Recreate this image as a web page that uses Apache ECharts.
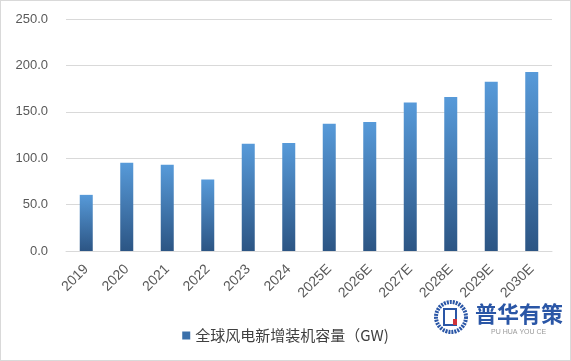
<!DOCTYPE html>
<html>
<head>
<meta charset="utf-8">
<script src="https://cdn.jsdelivr.net/npm/echarts@6/dist/echarts.min.js"></script>
<style>
html,body{margin:0;padding:0;background:#fff;}
#c{width:571px;height:361px;box-sizing:border-box;border:1px solid #d9d9d9;}
</style>
</head>
<body>
<div id="c"></div>
<script>
const categories = ['2019','2020','2021','2022','2023','2024','2025E','2026E','2027E','2028E','2029E','2030E'];
const capacity = [60.5, 95, 93, 77, 115.5, 116.5, 137, 139, 160, 166, 182.5, 193];
const seriesName = '全球风电新增装机容量（GW)';
const yTicks = {min: 0, max: 250, interval: 50};

const chart = echarts.init(document.getElementById('c'), null, {renderer: 'canvas'});
const grad = new echarts.graphic.LinearGradient(0, 0, 0, 1, [
  {offset: 0, color: '#579ad9'},
  {offset: 1, color: '#2c5584'}
]);
chart.setOption({
  animation: false,
  textStyle: {fontFamily: '"Noto Sans CJK SC", "Noto Sans", sans-serif'},
  grid: {left: 65, right: 18, top: 18, bottom: 109, containLabel: false},
  legend: {
    data: [{name: seriesName, icon: 'rect', itemStyle: {color: '#3a70aa'}}],
    left: 'center', top: 322,
    itemWidth: 8, itemHeight: 8, itemGap: 4,
    textStyle: {fontSize: 15, color: '#404040', fontFamily: '"Noto Sans CJK SC", sans-serif'}
  },
  xAxis: {
    type: 'category',
    data: categories,
    axisLine: {lineStyle: {color: '#d9d9d9'}},
    axisTick: {show: false},
    axisLabel: {rotate: 45, fontSize: 14, color: '#595959', margin: 16, fontFamily: '"Liberation Sans", "Noto Sans", sans-serif'}
  },
  yAxis: {
    type: 'value',
    min: yTicks.min, max: yTicks.max, interval: yTicks.interval,
    axisLine: {show: false},
    axisTick: {show: false},
    splitLine: {lineStyle: {color: '#d9d9d9'}},
    axisLabel: {fontSize: 13, color: '#595959', margin: 18, formatter: v => v.toFixed(1), fontFamily: '"Liberation Sans", "Noto Sans", sans-serif'}
  },
  series: [{
    name: seriesName,
    type: 'bar',
    data: capacity,
    barWidth: 13,
    itemStyle: {color: grad}
  }],
  graphic: [
    {type: 'circle', shape: {cx: 450, cy: 316, r: 15}, style: {fill: 'none', stroke: '#2a56a6', lineWidth: 4, lineDash: [2, 1]}},
    {type: 'rect', shape: {x: 443, y: 308, width: 12, height: 16}, style: {fill: 'none', stroke: '#2a56a6', lineWidth: 2}},
    {type: 'rect', shape: {x: 452, y: 318, width: 4, height: 6}, style: {fill: '#d0343a'}},
    {type: 'text', left: 474, top: 302, style: {text: '普华有策', fontSize: 22, fontWeight: 'bold', fill: '#2a56a6', fontFamily: '"Noto Sans CJK SC", sans-serif'}},
    {type: 'text', left: 490, top: 328, style: {text: 'PU HUA YOU CE', fontSize: 7, fill: '#9a9a9a', fontFamily: '"Liberation Sans", sans-serif'}}
  ]
});
</script>
</body>
</html>
